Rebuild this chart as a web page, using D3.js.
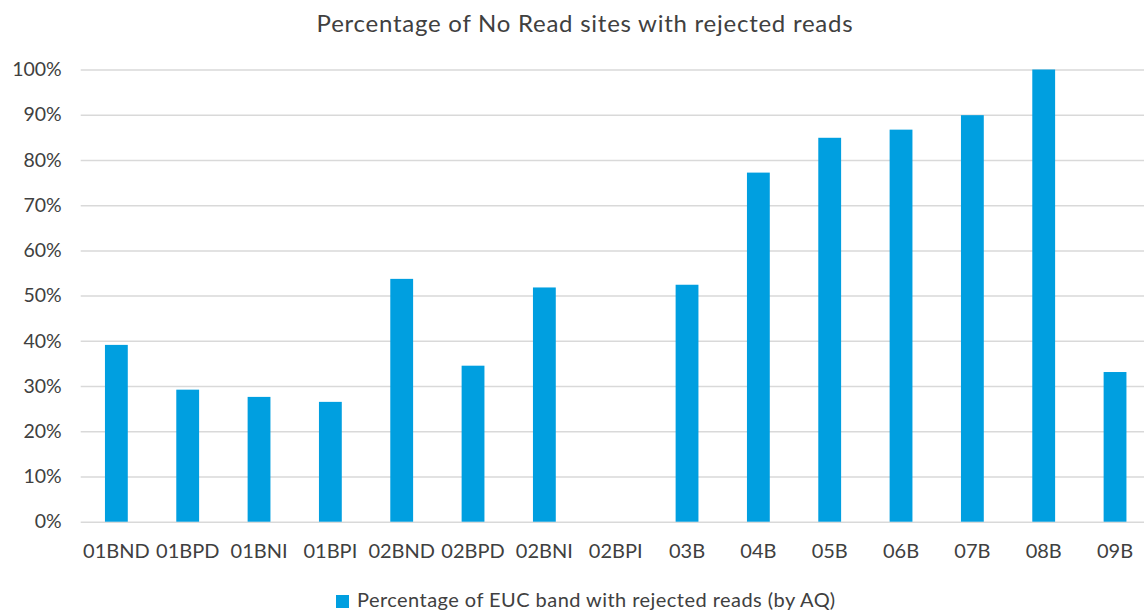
<!DOCTYPE html>
<html><head><meta charset="utf-8">
<script src="https://cdn.jsdelivr.net/npm/d3@7"></script>
<style>body{margin:0;background:#fff;}svg{display:block;font-family:Lato,"Open Sans",sans-serif;}</style>
</head><body><svg id="c" width="1144" height="612"></svg>
<script>
const categories = ["01BND","01BPD","01BNI","01BPI","02BND","02BPD","02BNI","02BPI","03B","04B","05B","06B","07B","08B","09B"];
const values = [0.391,0.292,0.276,0.265,0.537,0.345,0.518,0,0.524,0.772,0.849,0.867,0.899,1.0,0.331];
const yTicks = [0,0.1,0.2,0.3,0.4,0.5,0.6,0.7,0.8,0.9,1.0];
const title = "Percentage of No Read sites with rejected reads";
const seriesName = "Percentage of EUC band with rejected reads (by AQ)";

const svg = d3.select("#c");
const mLeft = 80.7, mRight = 1150.7, mTop = 69.5, mBottom = 521.7;
const x = d3.scaleBand().domain(categories).range([mLeft, mRight]).paddingInner(0.68).paddingOuter(0.34);
const y = d3.scaleLinear().domain([0,1]).range([mBottom, mTop]);

const yAxis = d3.axisLeft(y).tickValues(yTicks).tickFormat(d3.format(".0%")).tickSize(-(mRight-mLeft)).tickPadding(19);
const gy = svg.append("g").attr("transform",`translate(${mLeft},0)`).call(yAxis).attr("font-family","Lato, 'Open Sans', sans-serif");
gy.select(".domain").remove();
gy.selectAll(".tick line").attr("stroke","#d9d9d9").attr("stroke-width",1.5);
gy.selectAll(".tick text").attr("fill","#404040").style("font-size","19.5px");

svg.append("g").selectAll("rect").data(values).join("rect")
  .attr("x",(d,i)=>x(categories[i]))
  .attr("width",x.bandwidth())
  .attr("y",d=>y(d))
  .attr("height",d=>y(0)-y(d))
  .attr("fill","#009fe0");

const xAxis = d3.axisBottom(x).tickSize(0).tickPadding(22);
const gx = svg.append("g").attr("transform",`translate(0,${mBottom})`).call(xAxis).attr("font-family","Lato, 'Open Sans', sans-serif");
gx.select(".domain").remove();
gx.selectAll(".tick text").attr("fill","#404040").style("font-size","20px");

svg.append("text").attr("x",585).attr("y",32).attr("text-anchor","middle")
  .attr("fill","#404040").style("font-size","24px").style("letter-spacing","0.75px").text(title);

const lg = svg.append("g");
lg.append("rect").attr("x",336).attr("y",595).attr("width",13).attr("height",13).attr("fill","#009fe0");
lg.append("text").attr("x",357).attr("y",607).attr("fill","#404040").style("font-size","20px").style("letter-spacing","0.45px").text(seriesName);
</script></body></html>
